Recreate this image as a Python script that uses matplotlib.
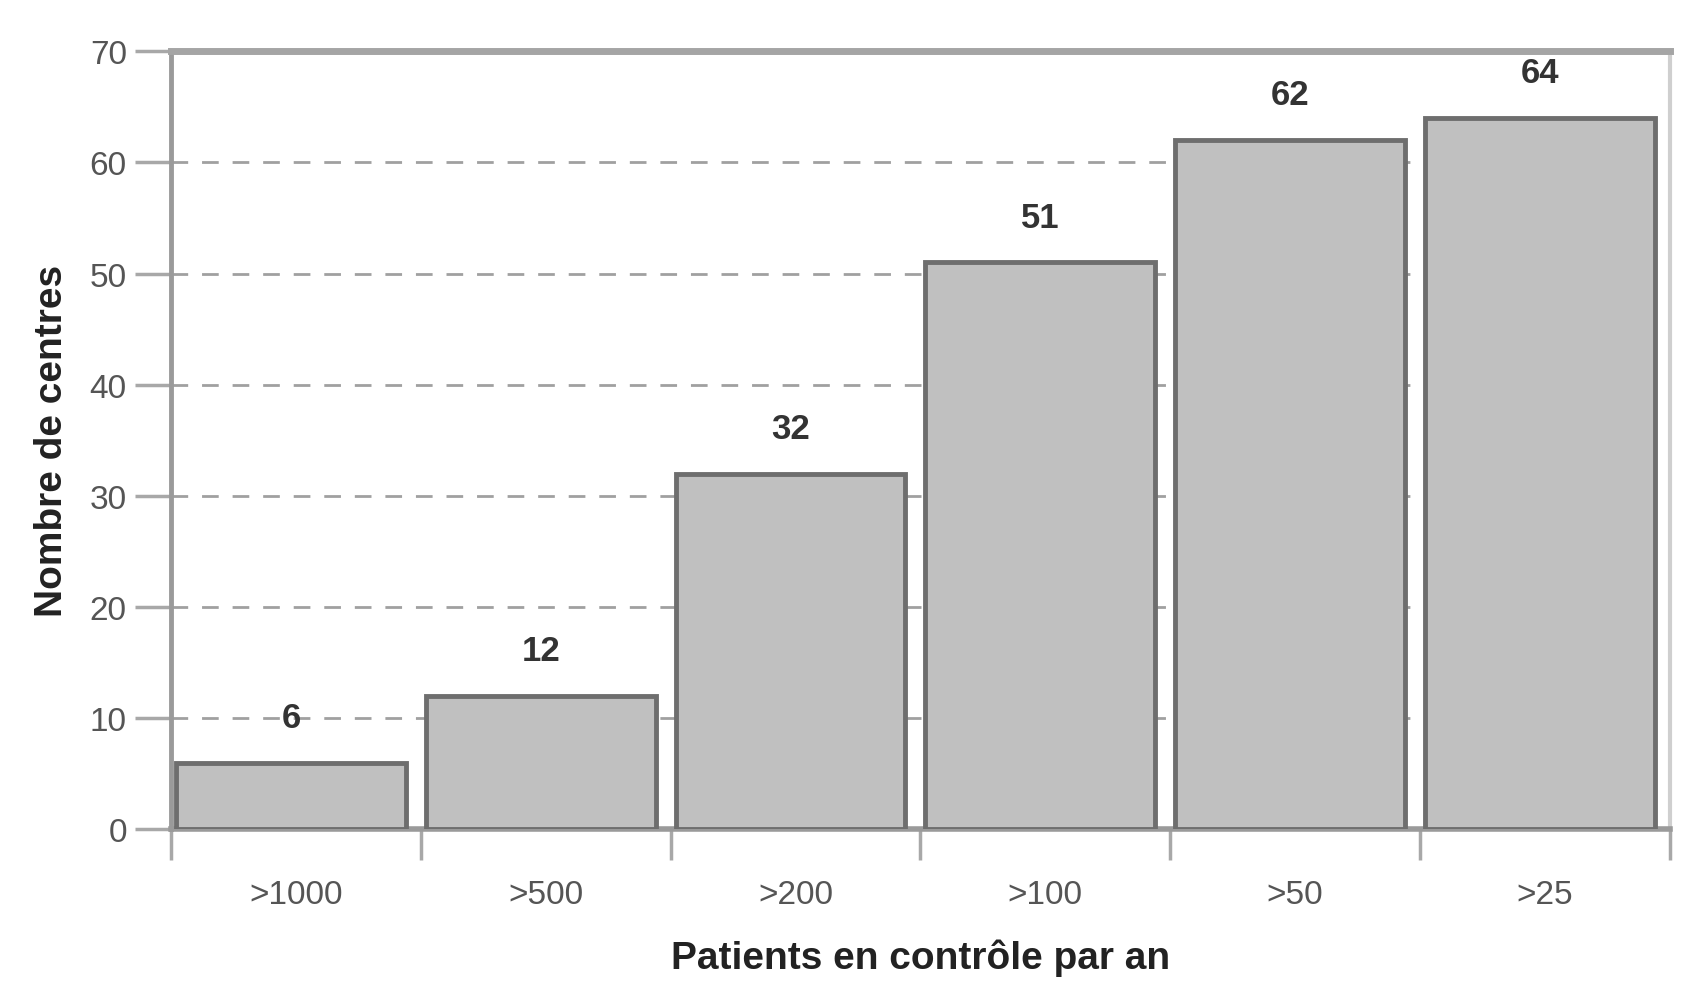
import matplotlib
matplotlib.use("Agg")
import matplotlib.pyplot as plt
import numpy as np

categories = [">1000", ">500", ">200", ">100", ">50", ">25"]
values = [6, 12, 32, 51, 62, 64]
yticks = [0, 10, 20, 30, 40, 50, 60, 70]

plt.rcParams['font.family'] = ['Liberation Sans', 'DejaVu Sans']

fig = plt.figure(figsize=(16.95, 10.04), dpi=100)
ax = fig.add_axes([0.101, 0.173, 0.884, 0.775])

x = np.arange(len(categories))
bars = ax.bar(x - 0.02, values, width=0.92, color="#c0c0c0",
              edgecolor="#6e6e6e", linewidth=3.5, zorder=3)

for xi, v in zip(x, values):
    ax.text(xi - 0.02, v + 2.6, str(v), ha="center", va="bottom",
            fontsize=25, fontweight="bold", color="#333333", zorder=4)

ax.set_xlim(-0.5, len(categories) - 0.5)
ax.set_ylim(0, 70)
ax.set_yticks(yticks)
ax.set_yticklabels([str(t) for t in yticks], fontsize=24, color="#555555")

ax.set_xticks(np.arange(len(categories) + 1) - 0.5)
ax.set_xticklabels([])
ax.set_xticks(x, minor=True)
ax.set_xticklabels(categories, minor=True, fontsize=24, color="#555555")
ax.tick_params(axis="x", which="major", length=22, width=2.5, color="#a8a8a8", direction="out")
ax.tick_params(axis="x", which="minor", length=0, pad=36)
ax.tick_params(axis="y", length=26, width=2.5, color="#a8a8a8", direction="out", pad=6)

ax.yaxis.grid(True, linestyle=(0, (6, 5)), color="#a0a0a0", linewidth=2, zorder=1)
ax.set_axisbelow(True)

for side, col, lw in [("left", "#9a9a9a", 3.5), ("bottom", "#9a9a9a", 4),
                      ("top", "#a5a5a5", 5), ("right", "#cfcfcf", 3)]:
    ax.spines[side].set_color(col)
    ax.spines[side].set_linewidth(lw)

ax.set_xlabel("Patients en contrôle par an", fontsize=28, fontweight="bold",
              color="#222222", labelpad=20)
ax.set_ylabel("Nombre de centres", fontsize=28, fontweight="bold",
              color="#222222", labelpad=14)

fig.savefig("out.png", dpi=100, facecolor="white")
